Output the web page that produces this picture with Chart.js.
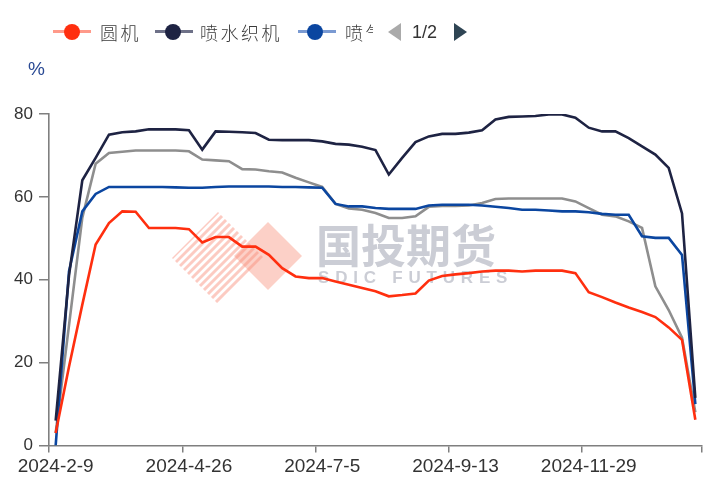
<!DOCTYPE html>
<html>
<head>
<meta charset="utf-8">
<script src="https://cdn.jsdelivr.net/npm/chart.js@4.4.0/dist/chart.umd.min.js"></script>
<style>
  html, body { margin: 0; padding: 0; background: #fff; }
  #wrap { position: relative; width: 706px; height: 484px; overflow: hidden; }
  #c { position: absolute; left: 0; top: 0; }
  .sym { position: absolute; top: 30px; height: 3px; }
  .dot { position: absolute; top: 24px; width: 16px; height: 16px; border-radius: 50%; }
  .txt { position: absolute; top: 19px; font: 300 18px "Noto Sans CJK SC", sans-serif; letter-spacing: 2.5px; color: #3a3a3a; line-height: 26px; white-space: nowrap; overflow: hidden; }
  .unit { position: absolute; left: 28px; top: 58px; font: 19px "Liberation Sans", Arial, sans-serif; color: #2a4a94; }
</style>
</head>
<body>
<div id="wrap">
  <canvas id="c" width="706" height="484"></canvas>
  <div class="unit">%</div>
  <div id="legend"></div>
</div>
<script>
// weekly dates (spring festival and national day weeks are missing)
const categories = [
  '2024-2-9', '2024-2-23', '2024-3-1', '2024-3-8', '2024-3-15', '2024-3-22', '2024-3-29',
  '2024-4-5', '2024-4-12', '2024-4-19', '2024-4-26', '2024-5-3', '2024-5-10', '2024-5-17',
  '2024-5-24', '2024-5-31', '2024-6-7', '2024-6-14', '2024-6-21', '2024-6-28', '2024-7-5',
  '2024-7-12', '2024-7-19', '2024-7-26', '2024-8-2', '2024-8-9', '2024-8-16', '2024-8-23',
  '2024-8-30', '2024-9-6', '2024-9-13', '2024-9-20', '2024-9-27', '2024-10-11', '2024-10-18',
  '2024-10-25', '2024-11-1', '2024-11-8', '2024-11-15', '2024-11-22', '2024-11-29', '2024-12-6',
  '2024-12-13', '2024-12-20', '2024-12-27', '2025-1-3', '2025-1-10', '2025-1-17', '2025-1-24'
];
const xTickLabels = ['2024-2-9', '2024-4-26', '2024-7-5', '2024-9-13', '2024-11-29'];
const yTicks = [0, 20, 40, 60, 80];

const yuanji = [3, 19, 34, 48.5, 53.7, 56.5, 56.4, 52.5, 52.5, 52.5,
  52.2, 49, 50.3, 50.3, 48, 48, 46, 42.8, 40.8, 40.4,
  40.4, 39.6, 38.8, 38, 37.2, 36, 36.3, 36.7, 39.8, 40.9,
  41.3, 41.6, 42, 42.2, 42.2, 42, 42.2, 42.2, 42.2, 41.6,
  37, 35.8, 34.5, 33.3, 32.2, 31, 28.5, 25.5, 6.2];
const penshui = [6, 41, 64, 69.4, 75, 75.6, 75.8, 76.3, 76.3, 76.3,
  76.1, 71.4, 75.8, 75.7, 75.6, 75.4, 73.8, 73.7, 73.7, 73.7,
  73.4, 72.8, 72.6, 72.1, 71.3, 65.4, 69.4, 73.2, 74.6, 75.2,
  75.2, 75.5, 76.1, 78.7, 79.3, 79.4, 79.5, 79.9, 79.9, 79.1,
  76.7, 75.8, 75.8, 74.2, 72.2, 70.2, 67, 56, 11.5];
const penqi = [0, 42, 56.5, 60.7, 62.4, 62.4, 62.4, 62.4, 62.4, 62.3,
  62.2, 62.2, 62.4, 62.5, 62.5, 62.5, 62.5, 62.4, 62.4, 62.3,
  62.2, 58.3, 57.7, 57.7, 57.3, 57.1, 57.1, 57.1, 57.9, 58.1,
  58.1, 58.1, 57.9, 57.6, 57.3, 56.9, 56.9, 56.7, 56.5, 56.5,
  56.3, 55.9, 55.7, 55.7, 50.5, 50.1, 50.1, 46, 10];
const jiadan = [3, 29, 55, 68, 70.6, 70.9, 71.2, 71.2, 71.2, 71.2,
  71.0, 69, 68.8, 68.6, 66.7, 66.6, 66.2, 65.9, 64.6, 63.5,
  62.4, 58.3, 57.2, 56.9, 56.1, 54.9, 54.9, 55.3, 57.6, 57.8,
  57.8, 57.9, 58.5, 59.5, 59.6, 59.6, 59.6, 59.6, 59.6, 58.9,
  57.3, 55.7, 55.3, 54.1, 52.5, 38.4, 32.7, 26, 8];

const series = [
  { name: '圆机', data: yuanji, color: '#ff2f0f', light: '#ff9a8a' },
  { name: '喷水织机', data: penshui, color: '#1e2343', light: '#6e7188' },
  { name: '喷气织机', data: penqi, color: '#0b46a0', light: '#7a9ad2' },
  { name: '加弹机', data: jiadan, color: '#8e8e8e', light: '#c0c0c0' }
];

// legend page 1 (html), the third name is cut by the pager
const legendPos = [
  { line: 53, dot: 64, text: 100, width: 60 },
  { line: 155, dot: 165, text: 200, width: 90 },
  { line: 298, dot: 307, text: 345, width: 28 }
];
const legend = document.getElementById('legend');
legendPos.forEach((p, i) => {
  const s = series[i];
  legend.insertAdjacentHTML('beforeend',
    `<div class="sym" style="left:${p.line}px;width:38px;background:${s.light}"></div>` +
    `<div class="dot" style="left:${p.dot}px;background:${s.color}"></div>` +
    `<div class="txt" style="left:${p.text}px;width:${p.width}px">${s.name}</div>`);
});
legend.insertAdjacentHTML('beforeend',
  '<div style="position:absolute;left:388px;top:23px;width:0;height:0;border-top:9px solid transparent;border-bottom:9px solid transparent;border-right:13px solid #aaaaaa"></div>' +
  '<div style="position:absolute;left:412px;top:18px;font:18px \'Liberation Sans\',Arial,sans-serif;color:#333;line-height:28px">1/2</div>' +
  '<div style="position:absolute;left:454px;top:23px;width:0;height:0;border-top:9px solid transparent;border-bottom:9px solid transparent;border-left:13px solid #2f4554"></div>');

function diamond(ctx, cx, cy, r) {
  ctx.beginPath();
  ctx.moveTo(cx - r, cy);
  ctx.lineTo(cx, cy - r);
  ctx.lineTo(cx + r, cy);
  ctx.lineTo(cx, cy + r);
  ctx.closePath();
}

const watermark = {
  id: 'watermark',
  beforeDatasetsDraw(chart) {
    const ctx = chart.ctx;
    ctx.save();
    diamond(ctx, 268, 256, 34);
    ctx.fillStyle = 'rgba(248,150,130,0.45)';
    ctx.fill();
    ctx.restore();

    ctx.save();
    diamond(ctx, 218, 258, 46);
    ctx.clip();
    ctx.strokeStyle = 'rgba(248,140,120,0.45)';
    ctx.lineWidth = 3;
    for (let k = -110; k < 110; k += 8) {
      ctx.beginPath();
      ctx.moveTo(218 + k - 60, 258 + 60);
      ctx.lineTo(218 + k + 60, 258 - 60);
      ctx.stroke();
    }
    ctx.restore();

    ctx.save();
    ctx.fillStyle = 'rgba(160,164,178,0.55)';
    ctx.font = 'bold 45px "Noto Sans CJK SC", sans-serif';
    ctx.textBaseline = 'middle';
    ctx.fillText('国投期货', 316, 246);
    ctx.font = 'bold 17px "Liberation Sans", Arial, sans-serif';
    const word = 'SDIC FUTURES';
    let x = 318;
    for (const ch of word) {
      ctx.fillText(ch, x, 278);
      x += ctx.measureText(ch).width + 5.8;
    }
    ctx.restore();
  }
};

const axisGrey = '#7f7f7f';

new Chart(document.getElementById('c'), {
  type: 'line',
  data: {
    labels: categories,
    datasets: series.map(s => ({
      label: s.name,
      data: s.data,
      borderColor: s.color,
      backgroundColor: s.color,
      borderWidth: 2.6,
      pointRadius: 0,
      tension: 0,
      fill: false
    }))
  },
  options: {
    responsive: false,
    animation: false,
    layout: { padding: { top: 114, right: 4, left: 0, bottom: 0 } },
    plugins: { legend: { display: false }, tooltip: { enabled: false } },
    scales: {
      x: {
        type: 'category',
        offset: true,
        grid: {
          offset: true,
          drawOnChartArea: false,
          tickLength: 7,
          lineWidth: 1.5,
          tickColor: ctx => (ctx.type !== 'tick' || xTickLabels.includes(categories[ctx.index])) ? axisGrey : 'rgba(0,0,0,0)'
        },
        border: { color: axisGrey, width: 1.6 },
        ticks: {
          autoSkip: false,
          maxRotation: 0,
          minRotation: 0,
          padding: 3,
          color: '#333',
          font: { size: 19, family: '"Liberation Sans", Arial, sans-serif' },
          callback: (v, i) => xTickLabels.includes(categories[i]) ? categories[i] : ''
        },
        afterFit: s => { s.height = 38.5; }
      },
      y: {
        min: yTicks[0],
        max: yTicks[yTicks.length - 1],
        afterBuildTicks: s => { s.ticks = yTicks.map(v => ({ value: v })); },
        grid: { drawOnChartArea: false, tickLength: 10, lineWidth: 1.5, color: axisGrey },
        border: { color: axisGrey, width: 1.6 },
        ticks: {
          padding: 6,
          color: '#333',
          font: { size: 17, family: '"Liberation Sans", Arial, sans-serif' }
        },
        afterFit: s => { s.width = 49; }
      }
    }
  },
  plugins: [watermark]
});
</script>
</body>
</html>
